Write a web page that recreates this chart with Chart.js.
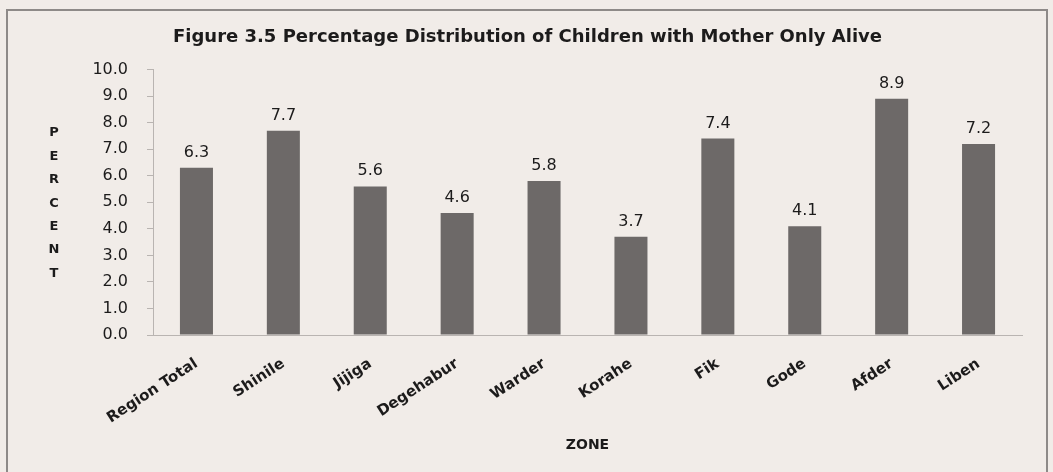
<!DOCTYPE html>
<html>
<head>
<meta charset="utf-8">
<script src="https://cdn.jsdelivr.net/npm/chart.js@4"></script>
<style>
  html, body { margin: 0; padding: 0; background: #f1ece8; }
  canvas { display: block; }
</style>
</head>
<body>
<canvas id="chart" width="1053" height="472"></canvas>
<script>
const zones = ["Region Total", "Shinile", "Jijiga", "Degehabur", "Warder", "Korahe", "Fik", "Gode", "Afder", "Liben"];
const percents = [6.3, 7.7, 5.6, 4.6, 5.8, 3.7, 7.4, 4.1, 8.9, 7.2];
const yTitleLetters = ["P", "E", "R", "C", "E", "N", "T"];

const FONT = "'DejaVu Sans', sans-serif";
const INK = "#1c1b1b";

// paper background and the thin frame around the figure
const paper = {
  id: "paper",
  beforeDraw(chart) {
    const ctx = chart.ctx;
    ctx.save();
    ctx.fillStyle = "#f1ece8";
    ctx.fillRect(0, 0, chart.width, chart.height);
    ctx.strokeStyle = "#8e8a88";
    ctx.lineWidth = 2;
    ctx.strokeRect(7, 10, 1040, 500);
    ctx.restore();
  }
};

// stacked "PERCENT" letters on the left
const stackedTitle = {
  id: "stackedTitle",
  afterDraw(chart) {
    const ctx = chart.ctx;
    ctx.save();
    ctx.font = "bold 13px " + FONT;
    ctx.fillStyle = INK;
    ctx.textAlign = "center";
    ctx.textBaseline = "middle";
    yTitleLetters.forEach((ch, i) => ctx.fillText(ch, 54, 133 + i * 23.4));
    ctx.restore();
  }
};

// value labels above the bars
const valueLabels = {
  id: "valueLabels",
  afterDatasetsDraw(chart) {
    const ctx = chart.ctx;
    const meta = chart.getDatasetMeta(0);
    ctx.save();
    ctx.font = "16px " + FONT;
    ctx.fillStyle = INK;
    ctx.textAlign = "center";
    ctx.textBaseline = "alphabetic";
    meta.data.forEach((bar, i) => {
      ctx.fillText(percents[i].toFixed(1), bar.x, bar.y - 11);
    });
    ctx.restore();
  }
};

new Chart(document.getElementById("chart"), {
  type: "bar",
  data: {
    labels: zones,
    datasets: [{
      data: percents,
      backgroundColor: "#6d6968",
      borderWidth: 0,
      categoryPercentage: 1,
      barPercentage: 0.38
    }]
  },
  options: {
    responsive: false,
    animation: false,
    layout: { padding: { top: 20, left: 33, right: 31, bottom: 10 } },
    plugins: {
      legend: { display: false },
      tooltip: { enabled: false },
      title: {
        display: true,
        text: "Figure 3.5 Percentage Distribution of Children with Mother Only Alive",
        font: { family: FONT, size: 18, weight: "bold" },
        color: INK,
        padding: { top: 7, bottom: 21 }
      }
    },
    scales: {
      y: {
        min: 0,
        max: 10,
        afterFit(scale) { scale.width = 120; },
        ticks: {
          stepSize: 1,
          padding: 19,
          color: INK,
          font: { family: FONT, size: 16 },
          callback: (v) => Number(v).toFixed(1)
        },
        grid: { drawOnChartArea: false, drawTicks: true, tickLength: 6, color: "#b9b4b1" },
        border: { display: true, color: "#b9b4b1" }
      },
      x: {
        afterFit(scale) { scale.height = 127; },
        ticks: {
          minRotation: 33,
          maxRotation: 33,
          padding: 12,
          color: INK,
          font: { family: FONT, size: 15, weight: "bold" }
        },
        grid: { display: false },
        border: { display: true, color: "#b9b4b1" },
        title: {
          display: true,
          text: "ZONE",
          color: INK,
          font: { family: FONT, size: 14, weight: "bold" },
          padding: { top: 4, bottom: 8 }
        }
      }
    }
  },
  plugins: [paper, stackedTitle, valueLabels]
});
</script>
</body>
</html>
